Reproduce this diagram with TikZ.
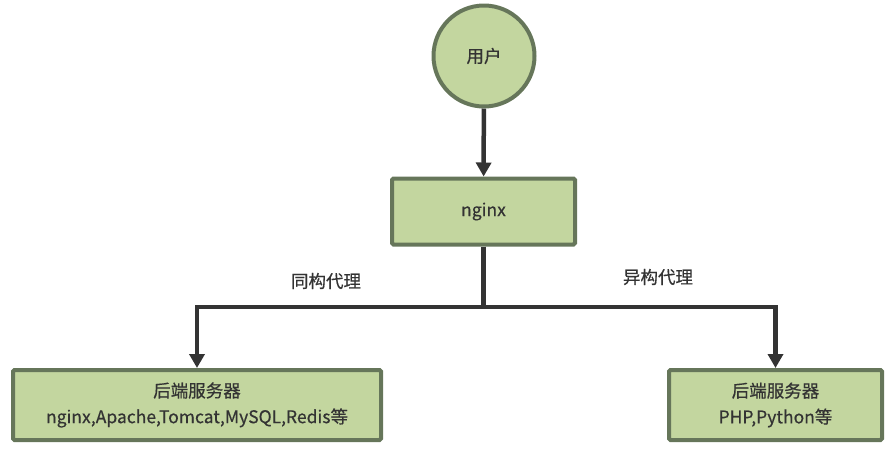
\documentclass[tikz,border=0pt]{standalone}
\usepackage{fontspec}
\setmainfont{Noto Sans CJK SC}[FakeBold=0.5]
\usetikzlibrary{arrows.meta}
\definecolor{boxfill}{HTML}{C3D69F}
\definecolor{boxline}{HTML}{66765A}
\definecolor{linkline}{HTML}{333333}
\tikzset{
  nodebox/.style={draw=boxline, fill=boxfill, line width=4pt, rounded corners=1.5pt,
    text=linkline, align=center, font=\fontsize{17.5}{26}\selectfont, inner sep=0pt},
  userball/.style={nodebox, circle, minimum size=101pt},
  link/.style={draw=linkline, line width=4.5pt, -{Triangle[length=14pt,width=15pt]}},
  linklabel/.style={text=linkline, font=\fontsize{17.5}{20}\selectfont}
}
\begin{document}
\begin{tikzpicture}[x=1pt,y=-1pt]
        \useasboundingbox (0,0) rectangle (891,451);

        \node[userball] (user) at (484,56) {用户};
        \node[nodebox, minimum width=183pt, minimum height=66pt] (nginx) at (483.5,211.5) {nginx};
        \node[nodebox, minimum width=368pt, minimum height=70pt] (same) at (197,405) {后端服务器\\nginx,Apache,Tomcat,MySQL,Redis等};
        \node[nodebox, minimum width=213pt, minimum height=70pt] (diff) at (775.5,405) {后端服务器\\PHP,Python等};

        \coordinate (split) at (483.5,307);

        \draw[link] (user) -- (nginx);
        \draw[draw=linkline, line width=4.5pt] (nginx) -- (split);
        \draw[link] (split) -| (same);
        \draw[link] (split) -| (diff);

        \node[linklabel] (samelabel) at (326,281) {同构代理};
        \node[linklabel] (difflabel) at (658,277) {异构代理};
    \end{tikzpicture}
\end{document}
